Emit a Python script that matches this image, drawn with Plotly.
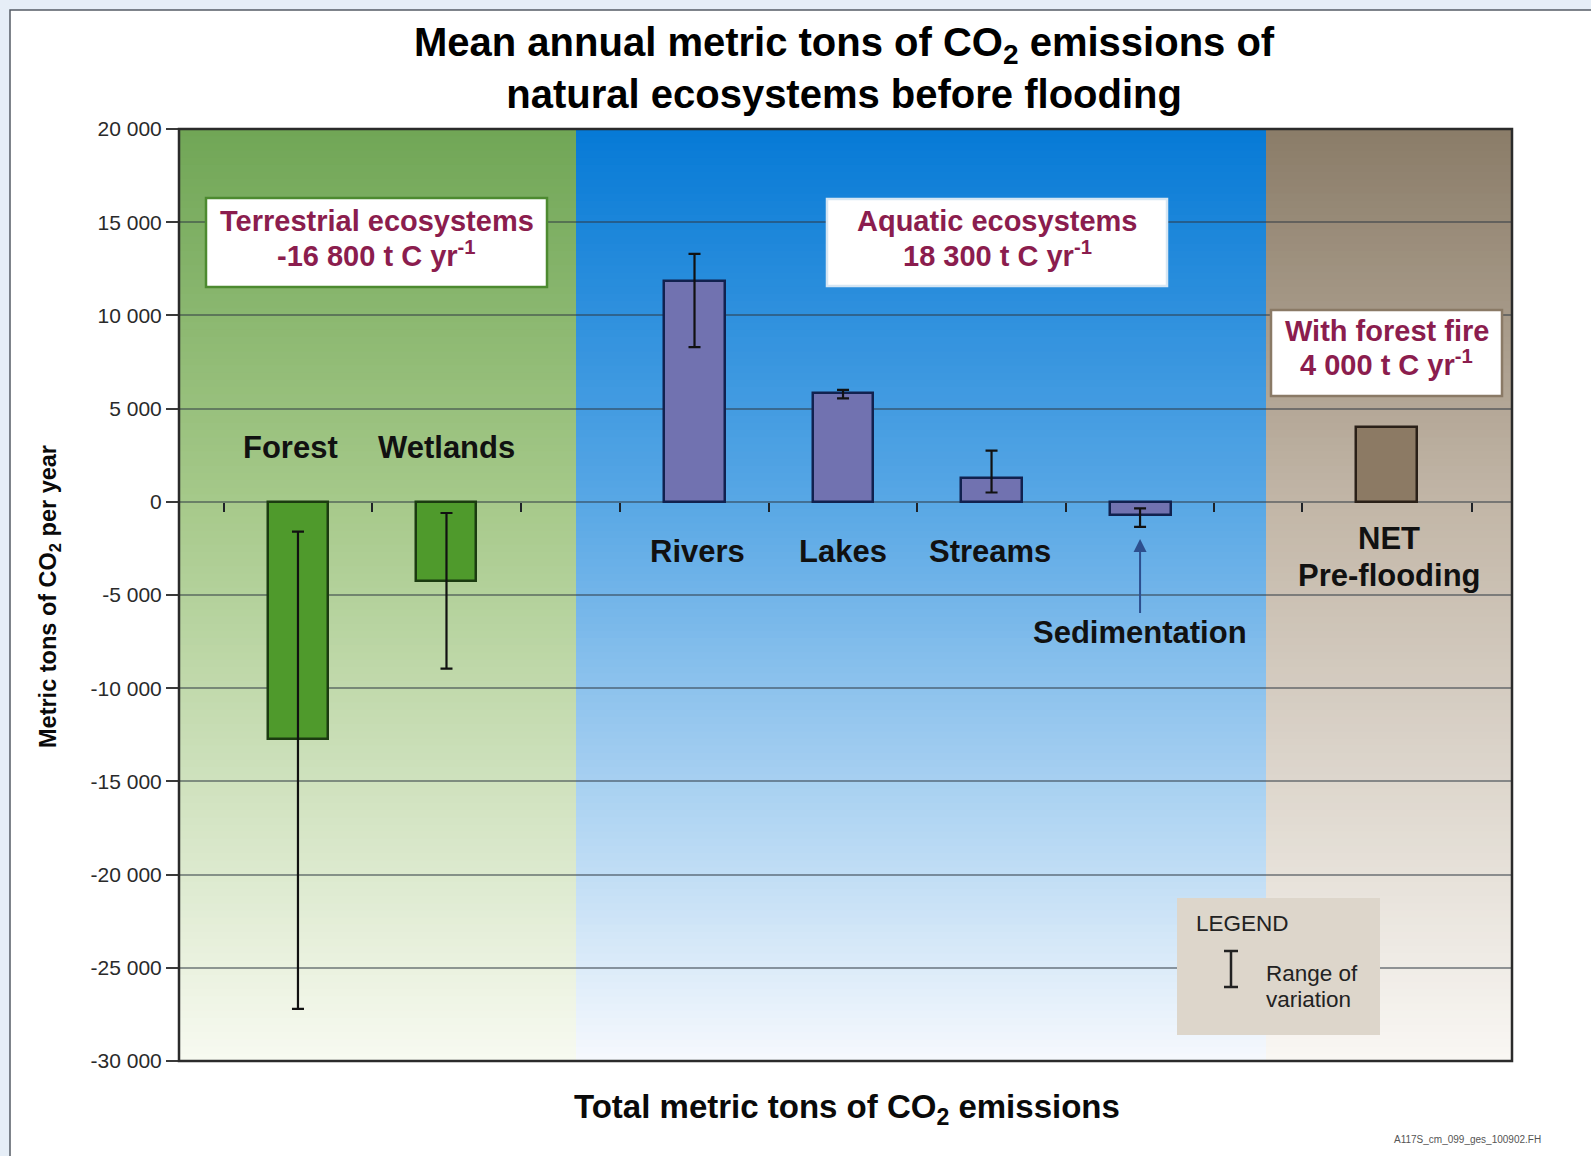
import plotly.graph_objects as go

# ---------------- data ----------------
terrestrial_cats = ["Forest", "Wetlands"]
terrestrial_vals = [-12750, -4250]
terrestrial_hi = [-1600, -600]
terrestrial_lo = [-27200, -8950]

aquatic_cats = ["Rivers", "Lakes", "Streams", "Sedimentation"]
aquatic_vals = [11850, 5850, 1300, -700]
aquatic_hi = [13300, 6000, 2750, -350]
aquatic_lo = [8300, 5550, 500, -1350]

net_cats = ["NET"]
net_vals = [4000]

y_tickvals = [20000, 15000, 10000, 5000, 0, -5000, -10000, -15000, -20000, -25000, -30000]
y_ticktext = ["20 000", "15 000", "10 000", "5 000", "0", "-5 000", "-10 000",
              "-15 000", "-20 000", "-25 000", "-30 000"]
Y_MIN, Y_MAX = -30000, 20000

title_text = ("Mean annual metric tons of CO<sub>2</sub> emissions of<br>"
              "natural ecosystems before flooding")
x_title = "Total metric tons of CO<sub>2</sub> emissions"
y_title = "Metric tons of CO<sub>2</sub> per year"
box_terrestrial = ["Terrestrial ecosystems", "-16 800 t C yr<sup>-1</sup>"]
box_aquatic = ["Aquatic ecosystems", "18 300 t C yr<sup>-1</sup>"]
box_fire = ["With forest fire", "4 000 t C yr<sup>-1</sup>"]
legend_lines = ["Range of", "variation"]

# ---------------- geometry helpers ----------------
FIG_W, FIG_H = 1591, 1156
L, R, T, B = 179, 79, 129, 95
PW = FIG_W - L - R
PH = FIG_H - T - B


def px(xp):
    return (xp - L) / PW


def py(yp):
    return (T + PH - yp) / PH


FONT = "Liberation Sans, Arial, sans-serif"
zero_pos = (0 - Y_MIN) / (Y_MAX - Y_MIN)

d1 = px(576)
d2 = px(1266)

fig = go.Figure()


def err(vals, hi, lo):
    return dict(type="data", symmetric=False,
                array=[h - v for h, v in zip(hi, vals)],
                arrayminus=[v - l for v, l in zip(vals, lo)],
                color="#111111", thickness=2.2, width=6)


fig.add_trace(go.Bar(x=terrestrial_cats, y=terrestrial_vals, xaxis="x", yaxis="y",
                     width=0.404,
                     marker=dict(color="#4f9a2c", line=dict(color="#1b3b10", width=2.5)),
                     error_y=err(terrestrial_vals, terrestrial_hi, terrestrial_lo),
                     showlegend=False, hoverinfo="x+y"))
fig.add_trace(go.Bar(x=aquatic_cats, y=aquatic_vals, xaxis="x2", yaxis="y",
                     width=0.41,
                     marker=dict(color="#7172b0", line=dict(color="#11214f", width=2.5)),
                     error_y=err(aquatic_vals, aquatic_hi, aquatic_lo),
                     showlegend=False, hoverinfo="x+y"))
fig.add_trace(go.Bar(x=net_cats, y=net_vals, xaxis="x3", yaxis="y",
                     width=0.36,
                     marker=dict(color="#8c7a64", line=dict(color="#2a2018", width=2.5)),
                     showlegend=False, hoverinfo="x+y"))

xcommon = dict(type="category", anchor="free", position=zero_pos,
               ticks="outside", tickson="boundaries", ticklen=9, tickwidth=2,
               tickcolor="#1e2228", showticklabels=False, showgrid=False,
               showline=False, zeroline=False, fixedrange=True)

fig.update_layout(
    xaxis=dict(domain=[0, d1], range=[-0.801, 1.872], **xcommon),
    xaxis2=dict(domain=[d1, d2], range=[-0.798, 3.848], **xcommon),
    xaxis3=dict(domain=[d2, 1], range=[-0.709, 0.738], **xcommon),
    yaxis=dict(domain=[0, 1], range=[Y_MIN, Y_MAX], anchor="x",
               tickmode="array", tickvals=y_tickvals, ticktext=y_ticktext,
               ticks="outside", ticklen=12, tickwidth=1.5, tickcolor="#3a3a3a",
               tickfont=dict(family=FONT, size=21, color="#2a2a2a"),
               showgrid=True, gridcolor="rgba(45,55,65,0.5)", gridwidth=1.5,
               zeroline=False, showline=False, fixedrange=True),
)

# ---------------- gradient backgrounds ----------------
panels = [
    ("x domain", [(0.0, (112, 166, 86)), (0.4, (166, 201, 138)), (1.0, (248, 250, 241))]),
    ("x2 domain", [(0.0, (6, 122, 214)), (0.4, (88, 167, 229)), (1.0, (246, 249, 253))]),
    ("x3 domain", [(0.0, (138, 124, 104)), (0.4, (194, 182, 167)), (1.0, (249, 247, 243))]),
]


def interp(stops, f):
    for (f0, c0), (f1, c1) in zip(stops[:-1], stops[1:]):
        if f0 <= f <= f1:
            t = (f - f0) / (f1 - f0) if f1 > f0 else 0
            return tuple(round(a + (b - a) * t) for a, b in zip(c0, c1))
    return stops[-1][1]


shapes = []
# outer white panel with frame
shapes.append(dict(type="rect", xref="paper", yref="paper",
                   x0=px(10), x1=px(FIG_W + 20), y0=py(FIG_H + 20), y1=py(10),
                   fillcolor="white", line=dict(color="#555c66", width=1.5), layer="below"))
N = 130
span = Y_MAX - Y_MIN
for xref, stops in panels:
    for i in range(N):
        f = (i + 0.5) / N
        r, g, b = interp(stops, f)
        y1 = Y_MAX - span * i / N
        y0 = Y_MAX - span * (i + 1.6) / N
        shapes.append(dict(type="rect", xref=xref, yref="y", x0=0, x1=1,
                           y0=max(y0, Y_MIN), y1=y1,
                           fillcolor=f"rgb({r},{g},{b})", line=dict(width=0),
                           layer="below"))

# info boxes (white with coloured border)
for x0, y0, x1, y1, bc in [(206, 198, 547, 287, "#4d8a30"),
                           (827, 199, 1167, 286, "#d6e6f3"),
                           (1271, 310, 1502, 396, "#8a7a66")]:
    shapes.append(dict(type="rect", xref="paper", yref="paper",
                       x0=px(x0), x1=px(x1), y0=py(y1), y1=py(y0),
                       fillcolor="white", line=dict(color=bc, width=2.5), layer="above"))

# legend box
shapes.append(dict(type="rect", xref="paper", yref="paper",
                   x0=px(1177), x1=px(1380), y0=py(1035), y1=py(898),
                   fillcolor="#ddd6cb", line=dict(width=0), layer="above"))
# legend "I" symbol
for x0, x1, y0, y1 in [(1231, 1231, 951, 987), (1224, 1238, 951, 951), (1224, 1238, 987, 987)]:
    shapes.append(dict(type="line", xref="paper", yref="paper",
                       x0=px(x0), x1=px(x1), y0=py(y0), y1=py(y1),
                       line=dict(color="#222222", width=2.5), layer="above"))
# plot frame
shapes.append(dict(type="rect", xref="paper", yref="paper", x0=0, x1=1, y0=0, y1=1,
                   fillcolor="rgba(0,0,0,0)", line=dict(color="#2b2b2b", width=2.5),
                   layer="above"))

ann = []


def text_px(text, xc, yc, size, bold=True, color="#111111", **kw):
    t = f"<b>{text}</b>" if bold else text
    d = dict(text=t, xref="paper", yref="paper", x=px(xc), y=py(yc),
             xanchor="center", yanchor="middle",
             showarrow=False, font=dict(family=FONT, size=size, color=color))
    d.update(kw)
    ann.append(d)


text_px(title_text, 844, 68, 40, color="#000000")
text_px(x_title, 847, 1109, 33, color="#0a0a0a")
text_px(y_title, 49, 597, 23.5, color="#0a0a0a", textangle=-90)

# box texts
BOX_COLOR = "#8b1d4e"
for lines, xc, y_a, y_b in [(box_terrestrial, 376.5, 221, 254),
                            (box_aquatic, 997, 221, 254),
                            (box_fire, 1386.5, 331, 363)]:
    text_px(lines[0], xc, y_a, 29, color=BOX_COLOR)
    text_px(lines[1], xc, y_b, 29, color=BOX_COLOR)

# legend texts
text_px("LEGEND", 1194, 923, 22.5, bold=False, color="#222222", xanchor="left")
text_px(legend_lines[0], 1264, 973, 22.5, bold=False, color="#222222", xanchor="left")
text_px(legend_lines[1], 1264, 999, 22.5, bold=False, color="#222222", xanchor="left")
text_px("A117S_cm_099_ges_100902.FH", 1392, 1139, 10, bold=False, color="#555555",
        xanchor="left")

# category labels (data coordinates)
cat_font = dict(family=FONT, size=31, color="#111111")
for xr, cat, yv, xs in [("x", "Forest", 2900, -7), ("x", "Wetlands", 2900, 0),
                        ("x2", "Rivers", -2650, 3), ("x2", "Lakes", -2650, 0),
                        ("x2", "Streams", -2650, -2),
                        ("x3", "NET", -1950, 2), ("x3", "Pre-flooding", -3935, 3)]:
    xcat = "NET" if xr == "x3" else cat
    ann.append(dict(text=f"<b>{cat}</b>", xref=xr, yref="y", x=xcat, y=yv, xshift=xs,
                    xanchor="center", yanchor="middle",
                    showarrow=False, font=cat_font))

ann.append(dict(text="<b>Sedimentation</b>", xref="x2", yref="y", x="Sedimentation",
                y=-2000, ax=0, ay=93, showarrow=True, arrowhead=2, arrowsize=1.3,
                arrowwidth=2, arrowcolor="#2d4f8e", standoff=0, font=cat_font))

fig.update_layout(
    width=FIG_W, height=FIG_H,
    margin=dict(l=L, r=R, t=T, b=B, autoexpand=False),
    paper_bgcolor="#e6eef7", plot_bgcolor="rgba(0,0,0,0)",
    shapes=shapes, annotations=ann, showlegend=False, bargap=0,
    font=dict(family=FONT),
)

fig.write_html("out.html", config={"displayModeBar": False},
               post_script="document.body.style.margin='0';document.body.style.overflow='hidden';")
